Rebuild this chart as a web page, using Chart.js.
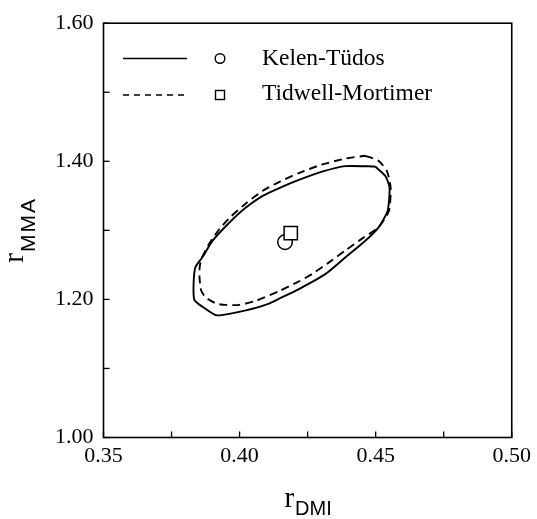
<!DOCTYPE html>
<html>
<head>
<meta charset="utf-8">
<script src="https://cdn.jsdelivr.net/npm/chart.js@4"></script>
<style>
  body { margin: 0; background: #fff; }
  #wrap { width: 537px; height: 519px; }
</style>
</head>
<body>
<div id="wrap"><canvas id="myChart" width="537" height="519"></canvas></div>
<script>
// confidence contour, Kelen-Tudos (solid)
const ktX = [0.4498, 0.4535, 0.4551, 0.4544, 0.4510, 0.4462, 0.4389, 0.4316, 0.4218, 0.4145,
  0.4108, 0.4023, 0.3962, 0.3914, 0.3865, 0.3834, 0.3831, 0.3838, 0.3865, 0.3901, 0.3962,
  0.4023, 0.4085, 0.4150, 0.4218, 0.4303, 0.4389, 0.4498];
const ktY = [1.3925, 1.379, 1.362, 1.3285, 1.304, 1.285, 1.261, 1.237, 1.215, 1.201,
  1.194, 1.184, 1.179, 1.177, 1.189, 1.199, 1.223, 1.247, 1.262, 1.285, 1.311,
  1.333, 1.350, 1.362, 1.373, 1.385, 1.393, 1.3925];

// confidence contour, Tidwell-Mortimer (dashed)
const tmX = [0.4462, 0.4510, 0.4541, 0.4555, 0.4549, 0.4512, 0.4450, 0.4389, 0.4330, 0.4267,
  0.4218, 0.4145, 0.4060, 0.3999, 0.3950, 0.3914, 0.3875, 0.3859, 0.3853, 0.3853, 0.3859,
  0.3889, 0.3926, 0.3968, 0.4023, 0.4084, 0.4150, 0.4218, 0.4300, 0.4389, 0.4462];
const tmY = [1.408, 1.401, 1.386, 1.362, 1.3285, 1.305, 1.288, 1.271, 1.254, 1.237,
  1.226, 1.212, 1.198, 1.192, 1.192, 1.194, 1.203, 1.213, 1.230, 1.245, 1.258,
  1.281, 1.302, 1.320, 1.339, 1.357, 1.371, 1.383, 1.395, 1.404, 1.408];

// point estimates
const ktPoint = [0.4167, 1.283];
const tmPoint = [0.4188, 1.296];

const seriesNames = ['Kelen-Tüdos', 'Tidwell-Mortimer'];
const xMinor = [0.375, 0.425, 0.475];
const yMinor = [1.10, 1.30, 1.50];

const SERIF = '"Liberation Serif", "Times New Roman", serif';
const SANS = '"Liberation Sans", Arial, sans-serif';

function toPts(xs, ys) {
  return xs.map((x, i) => ({ x: x, y: ys[i] }));
}

// frame, inward ticks, legend and subscripted axis titles
const decorPlugin = {
  id: 'decor',
  afterDraw(chart) {
    const ctx = chart.ctx;
    const a = chart.chartArea;
    const xs = chart.scales.x, ys = chart.scales.y;
    ctx.save();
    ctx.strokeStyle = '#000';
    ctx.lineWidth = 1.6;
    ctx.strokeRect(a.left, a.top, a.right - a.left, a.bottom - a.top);

    ctx.lineWidth = 1.3;
    const tk = 6;
    xs.ticks.map(t => t.value).concat(xMinor).forEach(v => {
      const px = xs.getPixelForValue(v);
      ctx.beginPath(); ctx.moveTo(px, a.bottom); ctx.lineTo(px, a.bottom - tk); ctx.stroke();
    });
    ys.ticks.map(t => t.value).concat(yMinor).forEach(v => {
      const py = ys.getPixelForValue(v);
      ctx.beginPath(); ctx.moveTo(a.left, py); ctx.lineTo(a.left + tk, py); ctx.stroke();
    });

    // legend
    const rows = [58.5, 95];
    ctx.lineWidth = 1.6;
    ctx.beginPath(); ctx.moveTo(123, rows[0]); ctx.lineTo(187, rows[0]); ctx.stroke();
    ctx.setLineDash([6, 5]);
    ctx.beginPath(); ctx.moveTo(123, rows[1]); ctx.lineTo(187, rows[1]); ctx.stroke();
    ctx.setLineDash([]);
    ctx.lineWidth = 1.4;
    ctx.beginPath(); ctx.arc(220, rows[0], 4.8, 0, Math.PI * 2); ctx.stroke();
    ctx.strokeRect(215.5, rows[1] - 4.5, 9, 9);
    ctx.fillStyle = '#000';
    ctx.font = '23.5px ' + SERIF;
    ctx.textBaseline = 'middle';
    ctx.textAlign = 'left';
    ctx.fillText(seriesNames[0], 262, rows[0]);
    ctx.fillText(seriesNames[1], 262, rows[1] - 1.5);

    // x title: r_DMI
    ctx.textBaseline = 'alphabetic';
    const cx = (a.left + a.right) / 2;
    ctx.font = '29px ' + SERIF;
    const wr = ctx.measureText('r').width;
    ctx.font = '20px ' + SANS;
    const wd = ctx.measureText('DMI').width;
    let x0 = cx - (wr + wd) / 2;
    ctx.font = '29px ' + SERIF;
    ctx.fillText('r', x0, 507);
    ctx.font = '20px ' + SANS;
    ctx.fillText('DMI', x0 + wr + 1, 515);

    // y title: r_MMA
    const cy = (a.top + a.bottom) / 2;
    ctx.translate(23, cy);
    ctx.rotate(-Math.PI / 2);
    ctx.font = '29px ' + SERIF;
    const wr2 = ctx.measureText('r').width;
    ctx.font = '21px ' + SANS;
    ctx.letterSpacing = '2px';
    const wm = ctx.measureText('MMA').width;
    x0 = -(wr2 + wm) / 2;
    ctx.letterSpacing = '0px';
    ctx.font = '29px ' + SERIF;
    ctx.fillText('r', x0, 0);
    ctx.font = '21px ' + SANS;
    ctx.letterSpacing = '2px';
    ctx.fillText('MMA', x0 + wr2 + 1, 12);
    ctx.restore();
  }
};

const ctx = document.getElementById('myChart').getContext('2d');
const chart = new Chart(ctx, {
  type: 'scatter',
  data: {
    datasets: [
      {
        label: seriesNames[1] + ' point',
        data: [{ x: tmPoint[0], y: tmPoint[1] }],
        pointStyle: 'rect',
        pointRadius: 9.4,
        pointBorderWidth: 1.5,
        pointBorderColor: '#000',
        pointBackgroundColor: '#fff',
        order: 0
      },
      {
        label: seriesNames[0] + ' point',
        data: [{ x: ktPoint[0], y: ktPoint[1] }],
        pointStyle: 'circle',
        pointRadius: 7.3,
        pointBorderWidth: 1.5,
        pointBorderColor: '#000',
        pointBackgroundColor: '#fff',
        order: 1
      },
      {
        label: seriesNames[0],
        data: toPts(ktX, ktY),
        showLine: true,
        pointRadius: 0,
        borderColor: '#000',
        borderWidth: 1.9,
        tension: 0.2,
        order: 2
      },
      {
        label: seriesNames[1],
        data: toPts(tmX, tmY),
        showLine: true,
        pointRadius: 0,
        borderColor: '#000',
        borderWidth: 1.9,
        borderDash: [8, 5],
        tension: 0.2,
        order: 3
      }
    ]
  },
  options: {
    responsive: false,
    animation: false,
    events: [],
    layout: { padding: { left: 0, right: 23, top: 22, bottom: 0 } },
    plugins: {
      legend: { display: false },
      tooltip: { enabled: false }
    },
    scales: {
      x: {
        type: 'linear',
        min: 0.35,
        max: 0.50,
        grid: { display: false, drawTicks: false },
        border: { display: false },
        ticks: {
          stepSize: 0.05,
          padding: 6,
          color: '#000',
          font: { family: SERIF, size: 22 },
          callback: (v) => v.toFixed(2)
        },
        afterFit: (s) => { s.height = 81.5; }
      },
      y: {
        type: 'linear',
        min: 1.0,
        max: 1.6,
        grid: { display: false, drawTicks: false },
        border: { display: false },
        ticks: {
          stepSize: 0.2,
          padding: 10,
          color: '#000',
          font: { family: SERIF, size: 22 },
          callback: (v) => v.toFixed(2)
        },
        afterFit: (s) => { s.width = 103.5; }
      }
    }
  },
  plugins: [decorPlugin]
});
</script>
</body>
</html>
